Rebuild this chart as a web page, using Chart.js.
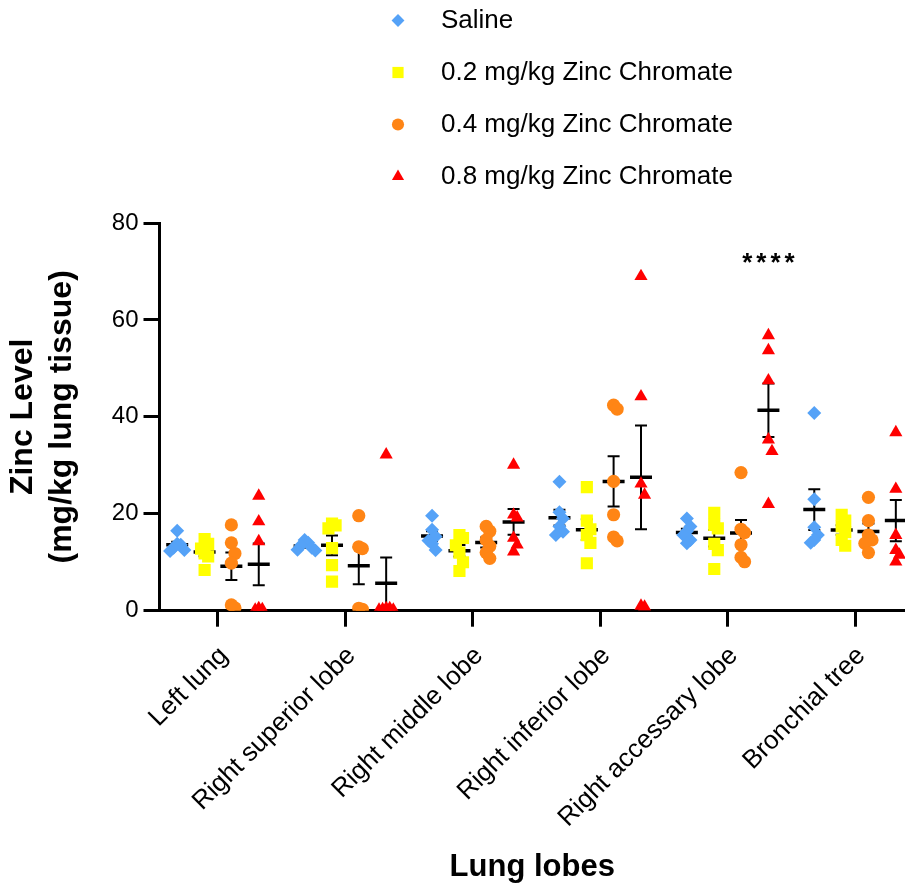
<!DOCTYPE html>
<html>
<head>
<meta charset="utf-8">
<script src="https://cdn.jsdelivr.net/npm/chart.js@4.4.1/dist/chart.umd.min.js"></script>
<style>
  html, body { margin: 0; padding: 0; background: #fff; }
  #wrap { width: 905px; height: 886px; position: relative; }
</style>
</head>
<body>
<div id="wrap"><canvas id="zincChart"></canvas></div>
<script>
// zinc per lobe, mg/kg lung tissue, one inner array per lobe
const lobes = ['Left lung', 'Right superior lobe', 'Right middle lobe', 'Right inferior lobe', 'Right accessary lobe', 'Bronchial tree'];
const groupNames = ['Saline', '0.2 mg/kg Zinc Chromate', '0.4 mg/kg Zinc Chromate', '0.8 mg/kg Zinc Chromate'];
const saline = [
  [16.5, 13.8, 13.6, 13.0, 12.5, 12.3],
  [14.6, 14.0, 13.5, 13.0, 12.6, 12.4],
  [19.6, 16.7, 15.3, 14.5, 13.8, 12.5],
  [26.6, 20.3, 19.0, 17.4, 16.3, 15.6],
  [19.0, 17.4, 16.4, 15.6, 14.6, 13.9],
  [40.8, 23.0, 17.2, 15.6, 14.6, 14.0]
];
const zn02 = [
  [14.8, 13.8, 12.8, 11.8, 11.2, 8.4],
  [18.0, 17.6, 17.0, 12.9, 9.4, 6.0],
  [15.6, 15.0, 13.5, 12.0, 10.0, 8.2],
  [25.5, 18.6, 16.8, 15.6, 14.0, 9.8],
  [20.2, 17.7, 17.0, 13.8, 12.5, 8.6],
  [19.8, 18.6, 17.4, 16.2, 14.6, 13.4]
];
const zn04 = [
  [17.7, 14.0, 11.8, 9.8, 1.2, 0.6],
  [19.6, 13.2, 12.8, 0.5, 0.3],
  [17.4, 16.4, 14.6, 13.3, 12.0, 10.8],
  [42.4, 41.6, 26.7, 19.8, 15.2, 14.4],
  [28.5, 16.8, 16.1, 13.6, 11.0, 10.1],
  [23.4, 18.6, 15.6, 14.6, 13.9, 12.0]
];
const zn08 = [
  [23.7, 18.4, 14.3, 0.5, 0.3, 0.2],
  [32.2, 0.5, 0.5, 0.3, 0.2, 0.2],
  [30.1, 19.8, 19.2, 15.0, 13.6, 12.2],
  [69.0, 44.2, 26.2, 23.9, 1.0, 0.8],
  [56.8, 53.7, 47.5, 35.3, 32.9, 22.0],
  [36.8, 25.1, 15.6, 12.5, 11.5, 10.1]
];
const yTicks = [0, 20, 40, 60, 80];
// significance mark over the 0.8 mg/kg group of the accessary lobe
const sigText = '****';
const sigLobe = 4;
const sigGroup = 3;
const sigAt = 71.5;

const groups = [saline, zn02, zn04, zn08];
const colors = ['#55A2F7', '#FFFF00', '#FF8515', '#FF0000'];
const shapes = ['rectRot', 'rect', 'circle', 'triangle'];
const radii = [7, 8.6, 6.6, 7.6];
const slot = [-0.32, -0.105, 0.105, 0.32];
const FONT = "'Liberation Sans', Arial, Helvetica, sans-serif";

// nudge points sideways when they would sit on top of each other
function spread(vals) {
  const placed = [];
  const steps = [0, 1, -1, 2, -2, 3, -3];
  return vals.map(v => {
    const near = placed.filter(p => Math.abs(p.v - v) < 2.4);
    const s = steps.find(k => !near.some(p => p.s === k));
    placed.push({ v, s });
    return s * 0.028;
  });
}

function stats(vals) {
  const n = vals.length;
  const mean = vals.reduce((a, b) => a + b, 0) / n;
  const sd = Math.sqrt(vals.reduce((a, b) => a + (b - mean) * (b - mean), 0) / (n - 1));
  return { mean, sem: sd / Math.sqrt(n) };
}

const datasets = groups.map((g, gi) => {
  const pts = [];
  g.forEach((vals, li) => {
    const dx = spread(vals);
    vals.forEach((v, k) => pts.push({ x: li + slot[gi] + dx[k], y: v }));
  });
  return {
    label: groupNames[gi],
    data: pts,
    pointStyle: shapes[gi],
    pointRadius: radii[gi],
    pointHoverRadius: radii[gi],
    backgroundColor: colors[gi],
    borderColor: colors[gi],
    pointBorderWidth: 0,
    clip: 0
  };
});

// mean line + SEM bars, drawn under the points
const meanBars = {
  id: 'meanBars',
  beforeDatasetsDraw(chart) {
    const { ctx, chartArea, scales: { x, y } } = chart;
    ctx.save();
    ctx.beginPath();
    ctx.rect(chartArea.left, chartArea.top, chartArea.right - chartArea.left, chartArea.bottom - chartArea.top);
    ctx.clip();
    ctx.strokeStyle = '#000';
    groups.forEach((g, gi) => {
      g.forEach((vals, li) => {
        const { mean, sem } = stats(vals);
        const cx = x.getPixelForValue(li + slot[gi]);
        const ym = y.getPixelForValue(mean);
        const yt = y.getPixelForValue(mean + sem);
        const yb = y.getPixelForValue(Math.max(mean - sem, 0));
        ctx.lineWidth = 2;
        ctx.beginPath();
        ctx.moveTo(cx, yt); ctx.lineTo(cx, yb);
        ctx.moveTo(cx - 6, yt); ctx.lineTo(cx + 6, yt);
        if (mean - sem > 0) { ctx.moveTo(cx - 6, yb); ctx.lineTo(cx + 6, yb); }
        ctx.stroke();
        ctx.lineWidth = 3.5;
        ctx.beginPath();
        ctx.moveTo(cx - 11, ym); ctx.lineTo(cx + 11, ym);
        ctx.stroke();
      });
    });
    ctx.restore();
  },
  afterDatasetsDraw(chart) {
    const { ctx, scales: { x, y } } = chart;
    ctx.save();
    ctx.fillStyle = '#000';
    ctx.font = 'bold 26px ' + FONT;
    ctx.letterSpacing = '4px';
    ctx.textAlign = 'center';
    ctx.textBaseline = 'middle';
    ctx.fillText(sigText, x.getPixelForValue(sigLobe + slot[sigGroup]) + 2, y.getPixelForValue(sigAt));
    ctx.restore();
  }
};

// stacked legend above the plot
const stackLegend = {
  id: 'stackLegend',
  afterDraw(chart) {
    const { ctx } = chart;
    ctx.save();
    groupNames.forEach((name, i) => {
      const cy = 20.5 + i * 52;
      ctx.fillStyle = colors[i];
      Chart.helpers.drawPoint(ctx, { pointStyle: shapes[i], radius: radii[i] * 0.92, borderWidth: 0, rotation: 0 }, 398, cy);
      ctx.fillStyle = '#000';
      ctx.font = '26px ' + FONT;
      ctx.textAlign = 'left';
      ctx.textBaseline = 'middle';
      ctx.fillText(name, 441, cy);
    });
    ctx.restore();
  }
};

new Chart(document.getElementById('zincChart'), {
  type: 'scatter',
  data: { datasets },
  options: {
    responsive: true,
    maintainAspectRatio: false,
    animation: false,
    events: [],
    layout: { autoPadding: false, padding: { top: 223, right: 0, left: 0, bottom: 0 } },
    plugins: { legend: { display: false }, tooltip: { enabled: false } },
    scales: {
      x: {
        type: 'linear',
        min: -0.459,
        max: 5.392,
        afterBuildTicks: s => { s.ticks = lobes.map((_, i) => ({ value: i })); },
        afterFit: s => { s.height = 275.3; s.paddingLeft = 0; s.paddingRight = 0; },
        grid: { drawOnChartArea: false, drawTicks: true, tickLength: 16, tickWidth: 3, tickColor: '#000' },
        border: { display: true, color: '#000', width: 3 },
        ticks: {
          autoSkip: false, minRotation: 45, maxRotation: 45, padding: 14, labelOffset: 6,
          color: '#000', font: { family: FONT, size: 26 },
          callback: v => lobes[v]
        },
        title: {
          display: true, text: 'Lung lobes', color: '#000',
          font: { family: FONT, size: 31, weight: 'bold', lineHeight: 1.2 },
          padding: { top: 0, bottom: 0 }
        }
      },
      y: {
        min: 0,
        max: 80,
        afterBuildTicks: s => { s.ticks = yTicks.map(v => ({ value: v })); },
        afterFit: s => { s.width = 159.5; },
        grid: { drawOnChartArea: false, drawTicks: true, tickLength: 16, tickWidth: 3, tickColor: '#000' },
        border: { display: true, color: '#000', width: 3 },
        ticks: { color: '#000', padding: 5, font: { family: FONT, size: 24 } },
        title: {
          display: true, text: ['Zinc Level', '(mg/kg lung tissue)'], color: '#000',
          font: { family: FONT, size: 32, weight: 'bold', lineHeight: 1.22 },
          padding: { top: 4, bottom: 0 }
        }
      }
    }
  },
  plugins: [meanBars, stackLegend]
});
</script>
</body>
</html>
